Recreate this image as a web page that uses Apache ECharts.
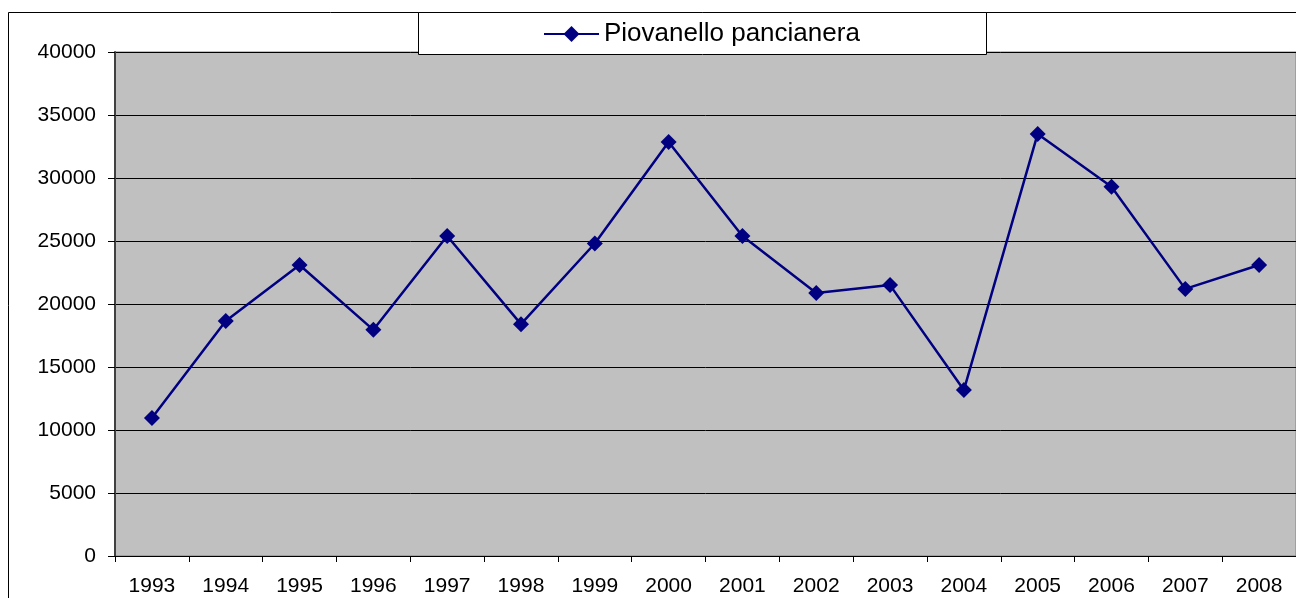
<!DOCTYPE html>
<html>
<head>
<meta charset="UTF-8">
<title>Piovanello pancianera</title>
<script src="https://cdn.jsdelivr.net/npm/echarts@6/dist/echarts.min.js"></script>
<style>
  html, body { margin: 0; padding: 0; background: #fff; }
  #chart { width: 1296px; height: 598px; }
</style>
</head>
<body>
<div id="chart"></div>
<script>
// dati
var years = ['1993', '1994', '1995', '1996', '1997', '1998', '1999', '2000',
             '2001', '2002', '2003', '2004', '2005', '2006', '2007', '2008'];
var piovanello = [10950, 18650, 23100, 17950, 25400, 18400, 24800, 32850,
                  25400, 20870, 21500, 13170, 33500, 29300, 21200, 23100];
var seriesName = 'Piovanello pancianera';

var font = 'Liberation Sans, Arial, sans-serif';
var chart = echarts.init(document.getElementById('chart'));

var option = {
  animation: false,
  backgroundColor: '#ffffff',
  textStyle: { fontFamily: font },
  graphic: [
    // cornice esterna
    { type: 'rect', z: 0, shape: { x: 8.5, y: 12.5, width: 1320, height: 620 },
      style: { fill: 'none', stroke: '#000', lineWidth: 1 } },
    // riquadro legenda
    { type: 'rect', z: 10, shape: { x: 418.5, y: 12.5, width: 568, height: 42 },
      style: { fill: '#fff', stroke: '#000', lineWidth: 1 } }
  ],
  legend: {
    z: 20,
    left: 543,
    top: 21,
    padding: 0,
    itemWidth: 55,
    itemHeight: 20,
    textStyle: { fontFamily: font, fontSize: 26, color: '#000' },
    data: [seriesName]
  },
  grid: {
    left: 115,
    right: 0,
    top: 52,
    bottom: 42,
    show: true,
    backgroundColor: '#c0c0c0',
    borderColor: '#808080',
    borderWidth: 1
  },
  xAxis: {
    type: 'category',
    data: years,
    boundaryGap: true,
    axisLine: { lineStyle: { color: '#000', width: 1 } },
    axisTick: { show: true, interval: 0, length: 6, lineStyle: { color: '#000' } },
    axisLabel: { interval: 0, margin: 20, fontSize: 21, color: '#000', fontFamily: font }
  },
  yAxis: {
    type: 'value',
    min: 0,
    max: 40000,
    interval: 5000,
    axisLine: { show: true, lineStyle: { color: '#404040', width: 2 } },
    axisTick: { show: true, length: 7, lineStyle: { color: '#000' } },
    axisLabel: {
      margin: 19, fontSize: 21, color: '#000', fontFamily: font,
      formatter: function (v) { return String(v); }
    },
    splitLine: { show: true, lineStyle: { color: '#000', width: 1 } }
  },
  series: [{
    name: seriesName,
    type: 'line',
    data: piovanello,
    symbol: 'diamond',
    symbolSize: 16,
    color: '#000080',
    lineStyle: { color: '#000080', width: 2.5 },
    itemStyle: { color: '#000080' }
  }]
};

chart.setOption(option);
</script>
</body>
</html>
